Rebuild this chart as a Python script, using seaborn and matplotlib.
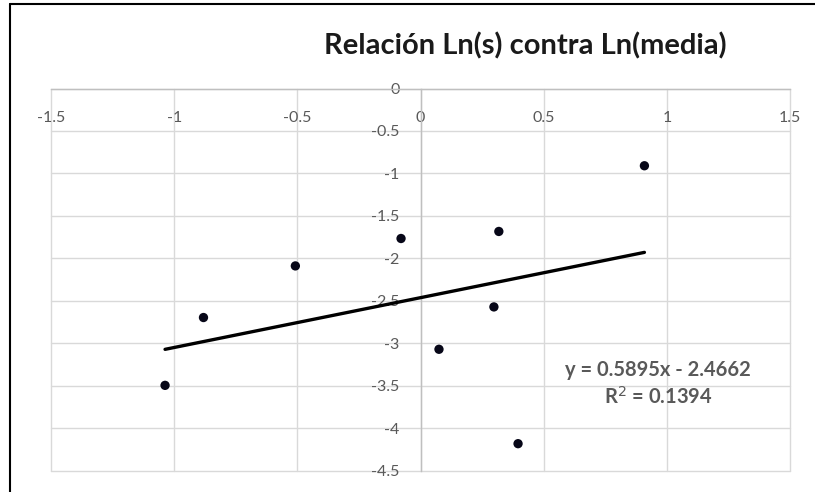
import numpy as np
import pandas as pd
import seaborn as sns
import matplotlib.pyplot as plt
from matplotlib.lines import Line2D

# data
ln_media = [-1.037, -0.881, -0.508, -0.079, 0.075, 0.298, 0.318, 0.396, 0.909]
ln_s = [-3.497, -2.698, -2.090, -1.767, -3.072, -2.573, -1.684, -4.184, -0.910]
x_ticks = [-1.5, -1, -0.5, 0, 0.5, 1, 1.5]
y_ticks = [0, -0.5, -1, -1.5, -2, -2.5, -3, -3.5, -4, -4.5]
title = 'Relación Ln(s) contra Ln(media)'
eq_text = 'y = 0.5895x - 2.4662'
r2_text = 'R$^2$ = 0.1394'

df = pd.DataFrame({'ln_media': ln_media, 'ln_s': ln_s})

sns.set_style('white')
plt.rcParams['font.family'] = ['Lato', 'DejaVu Sans']

fig = plt.figure(figsize=(8.15, 4.92), dpi=100)
ax = fig.add_axes([51 / 815, 1 - 470.5 / 492, (790 - 51) / 815, (470.5 - 88.5) / 492])

grid_c = '#d9d9d9'
label_c = '#595959'

# scatter + linear trendline
sns.regplot(data=df, x='ln_media', y='ln_s', ax=ax, ci=None, truncate=True,
            scatter_kws={'s': 45, 'color': '#070718', 'alpha': 1, 'edgecolor': 'none', 'zorder': 4},
            line_kws={'color': 'black', 'lw': 2.4, 'zorder': 3})

ax.set_xlim(-1.5, 1.5)
ax.set_ylim(-4.5, 0)
ax.set_xticks(x_ticks)
ax.set_yticks(y_ticks)
ax.set_xticklabels([f'{t:g}' for t in x_ticks])
ax.set_yticklabels([f'{t:g}' for t in y_ticks])
ax.set_xlabel('')
ax.set_ylabel('')

# axes cross at the origin like Excel
ax.spines['bottom'].set_position(('data', 0))
ax.spines['left'].set_position(('data', 0))
ax.spines['top'].set_visible(False)
ax.spines['right'].set_visible(False)
for s in ['bottom', 'left']:
    ax.spines[s].set_color('#bfbfbf')
    ax.spines[s].set_linewidth(1.0)

ax.grid(True, color=grid_c, lw=1.0)
ax.set_axisbelow(True)
for gl in ax.get_xgridlines() + ax.get_ygridlines():
    gl.set_clip_on(False)

ax.tick_params(axis='x', length=0, pad=16, labelsize=11.5, labelcolor=label_c)
ax.tick_params(axis='y', length=0, pad=15, labelsize=11.5, labelcolor=label_c)

# title and trendline label
fig.text(525 / 815, 1 - 46 / 492, title, ha='center', va='center',
         fontsize=21, fontweight='bold', color='#1a1a1a')
fig.text(658 / 815, 1 - 370 / 492, eq_text, ha='center', va='center',
         fontsize=14.5, fontweight='bold', color=label_c)
fig.text(658 / 815, 1 - 397 / 492, r2_text, ha='center', va='center',
         fontsize=14.5, fontweight='bold', color=label_c)

# black frame on left and top of the screenshot
fig.add_artist(Line2D([9.5 / 815, 9.5 / 815], [0, 1 - 3.5 / 492], transform=fig.transFigure,
                      color='black', lw=1.5))
fig.add_artist(Line2D([9.5 / 815, 1], [1 - 3.5 / 492, 1 - 3.5 / 492], transform=fig.transFigure,
                      color='black', lw=1.5))

fig.savefig('out.png', dpi=100)
